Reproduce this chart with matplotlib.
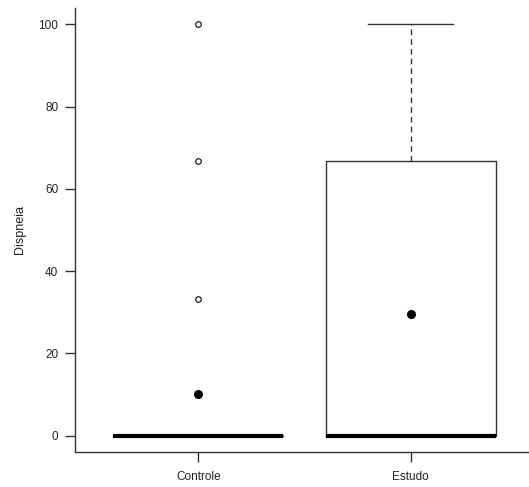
"""Boxplot of dyspnea scores, Controle vs Estudo (R-style)."""

import matplotlib
matplotlib.use('Agg')
import matplotlib.pyplot as plt

GROUPS = ['Controle', 'Estudo']
Q1 = [0, 0]
MEDIANS = [0, 0]
Q3 = [0, 66.7]
WHISK_LO = [0, 0]
WHISK_HI = [0, 100]
MEANS = [10.1, 29.6]
OUTLIERS = [[33.3, 66.7, 100], []]

LINE_COLOUR = '#333333'
TEXT_COLOUR = '#222222'

plt.rcParams['font.family'] = ['Liberation Sans', 'DejaVu Sans']

fig = plt.figure(figsize=(5.29, 4.87), dpi=100)
ax = fig.add_axes([75 / 529, 1 - 452 / 487, 459 / 529, 444 / 487])

stats = []
for i, name in enumerate(GROUPS):
    stats.append({
        'label': name, 'q1': Q1[i], 'med': MEDIANS[i], 'q3': Q3[i],
        'whislo': WHISK_LO[i], 'whishi': WHISK_HI[i], 'fliers': OUTLIERS[i],
    })

ax.bxp(
    stats, positions=[1, 2], widths=0.8, showfliers=True,
    boxprops=dict(color=LINE_COLOUR, linewidth=1),
    medianprops=dict(color='black', linewidth=3, solid_capstyle='butt'),
    whiskerprops=dict(color=LINE_COLOUR, linewidth=1, linestyle=(0, (4, 3))),
    capprops=dict(color=LINE_COLOUR, linewidth=1),
    capwidths=0.4,
    flierprops=dict(marker='o', markersize=4, markerfacecolor='white',
                    markeredgecolor='black', markeredgewidth=0.8),
)

ax.plot([1, 2], MEANS, linestyle='none', marker='o', markersize=5.5,
        color='black', zorder=5)

ax.set_xlim(0.42, 2.58)
ax.set_ylim(-4, 104)
ax.set_yticks([0, 20, 40, 60, 80, 100])
ax.set_xticks([1, 2])
ax.set_xticklabels(GROUPS)
ax.set_ylabel('Dispneia', fontsize=9, color=TEXT_COLOUR, labelpad=9)

for side in ['top', 'right']:
    ax.spines[side].set_visible(False)
for side in ['left', 'bottom']:
    ax.spines[side].set_color(LINE_COLOUR)
    ax.spines[side].set_linewidth(1)

ax.tick_params(axis='both', direction='out', length=7, width=1,
               color=LINE_COLOUR, labelsize=8.5, labelcolor=TEXT_COLOUR)
ax.tick_params(axis='x', pad=7)
ax.tick_params(axis='y', pad=5)

fig.savefig('out.png', dpi=100)
